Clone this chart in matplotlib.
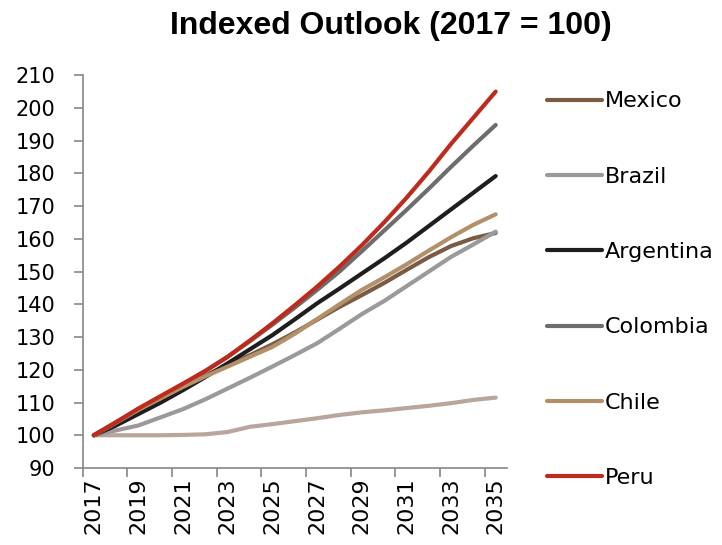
import numpy as np
import matplotlib
matplotlib.use('Agg')
import matplotlib.pyplot as plt


years = list(range(2017, 2036))

mexico = [100, 104, 108, 111.8, 115, 118.2, 121.5, 124.5, 127.8, 131.4,
          135.3, 139.2, 142.8, 146.5, 150.5, 154.4, 157.8, 160.2, 161.8]
brazil = [100, 101.5, 103, 105.5, 108, 111, 114.3, 117.6, 121, 124.5,
          128.1, 132.5, 137, 141, 145.5, 150, 154.5, 158.3, 162.2]
argentina = [100, 103, 106.5, 110, 113.8, 117.8, 122, 126.3, 130.6, 135.4,
             140.3, 144.8, 149.4, 154, 158.8, 163.9, 169, 174.1, 179.2]
colombia = [100, 103.8, 107.8, 111.8, 115.6, 119.6, 124, 128.8, 133.8, 139,
            144.4, 150, 156.2, 162.5, 168.8, 175.3, 182, 188.5, 194.8]
chile = [100, 104, 107.8, 111.3, 114.8, 118, 121, 124, 127, 131,
         135.5, 140, 144.4, 148.2, 152.2, 156.4, 160.5, 164.3, 167.5]
peru = [100, 104, 108.2, 112, 115.8, 119.7, 124, 129, 134.2, 139.7,
        145.4, 151.5, 158, 165, 172.5, 180.5, 189, 197, 205]
# series without a legend entry in the source chart
unlabeled = [100, 100, 100, 100, 100.1, 100.3, 101, 102.6, 103.4, 104.3,
             105.2, 106.2, 107, 107.6, 108.3, 109, 109.8, 110.8, 111.5]

names = ['Mexico', 'Brazil', 'Argentina', 'Colombia', 'Chile', 'Peru']
series = [mexico, brazil, argentina, colombia, chile, peru]
colors = ['#7a5c45', '#9b9999', '#1e1e1e', '#6d6d6d', '#b39069', '#be2a1c']

axis_grey = '#868686'

fig = plt.figure(figsize=(7.22, 5.45), dpi=100)
ax = fig.add_axes([0.1145, 0.1413, 0.702 - 0.1145, 0.862 - 0.1413])

x = np.arange(len(years))

ax.plot(x, unlabeled, color='#b9a59c', linewidth=3, solid_capstyle='round')
for vals, name, col in zip(series, names, colors):
    ax.plot(x, vals, color=col, linewidth=3, solid_capstyle='round', label=name)

ax.set_xlim(-0.5, len(years) - 0.5)
ax.set_ylim(90, 210)
ax.set_yticks(np.arange(90, 211, 10))

# tick marks between categories, labels on every other year
ax.set_xticks(np.arange(-0.5, len(years) - 1, 2))
ax.set_xticklabels([])
ax.set_xticks(x[::2], minor=True)
ax.set_xticklabels([str(y) for y in years[::2]], minor=True, rotation=90, fontsize=16)
ax.tick_params(axis='x', which='minor', length=0, pad=7)
ax.tick_params(axis='x', which='major', direction='out', length=6.5, width=1.2, color=axis_grey)
ax.tick_params(axis='y', direction='out', length=6.5, width=1.2, color=axis_grey,
               labelsize=15, pad=13)

for side in ['top', 'right']:
    ax.spines[side].set_visible(False)
for side in ['left', 'bottom']:
    ax.spines[side].set_color(axis_grey)
    ax.spines[side].set_linewidth(1.2)

fig.text(0.5416, 0.952, 'Indexed Outlook (2017 = 100)', ha='center', va='center',
         fontsize=23, fontweight='bold', family=['Liberation Sans', 'DejaVu Sans'])

fig.legend(loc='center left', bbox_to_anchor=(0.7576, 0.4685), frameon=False,
           fontsize=16, handlelength=2.48, handletextpad=0.12, labelspacing=2.49,
           borderpad=0, borderaxespad=0)

fig.savefig('out.png', dpi=100)
